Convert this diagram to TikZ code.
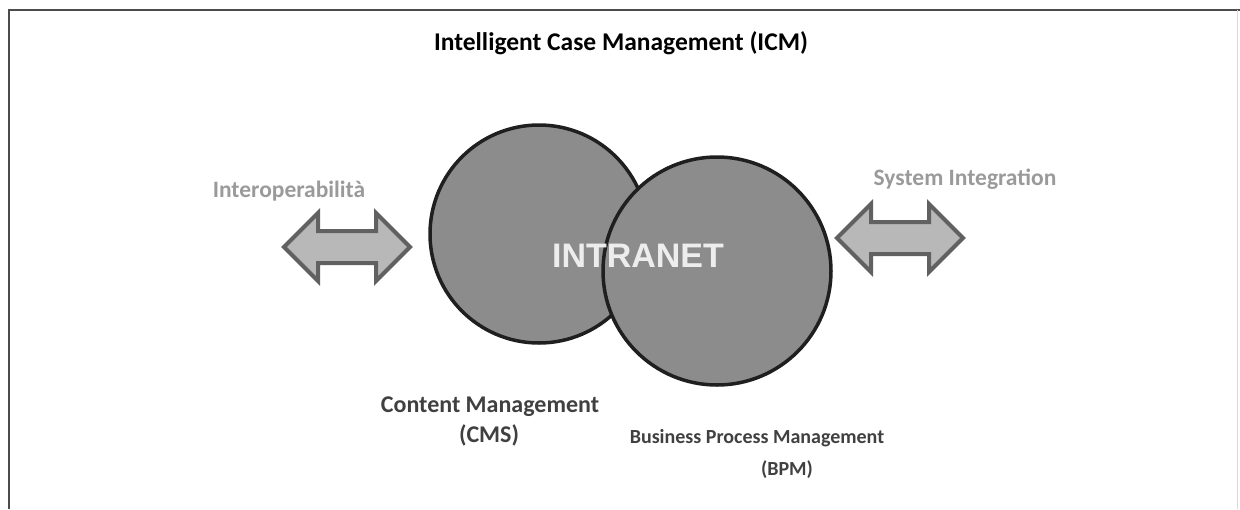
\documentclass[tikz,border=0pt]{standalone}
\usepackage{fontspec}
\setmainfont{Carlito}
\newfontfamily\arialfont{Liberation Sans}
\usepackage{tikz}
\usetikzlibrary{
    calc,
    positioning
}
\definecolor{labelgray}{HTML}{9A9A9A}
\definecolor{textgray}{HTML}{404040}
\tikzset{
    title/.style={anchor=base, font=\bfseries\fontsize{25.5}{30}\selectfont},
    sidelabel/.style={anchor=base, text=labelgray, font=\bfseries\fontsize{23.5}{28}\selectfont},
    partlabel/.style={anchor=base, text=textgray, font=\bfseries\fontsize{#1}{28}\selectfont},
    bubble/.style={circle, draw=black!88, line width=3.5, fill=black!45, inner sep=0},
    arrowbox/.style={draw=black!62, line width=4, fill=black!28, line join=miter}
}
\newcommand{\dblarrow}[1]{
    \draw[arrowbox] ($(#1) + (-63, 0)$) -- ($(#1) + (-29, -34)$) -- ($(#1) + (-29, -16)$)
    -- ($(#1) + (29, -16)$) -- ($(#1) + (29, -34)$) -- ($(#1) + (63, 0)$)
    -- ($(#1) + (29, 34)$) -- ($(#1) + (29, 16)$) -- ($(#1) + (-29, 16)$)
    -- ($(#1) + (-29, 34)$) -- cycle;
}

\begin{document}
\begin{tikzpicture}[x=1pt, y=-1pt]
    \useasboundingbox (0, 0) rectangle (1240, 509);
    \draw[black!70, line width=1.5] (9, 509) -- (9, 10) -- (1240, 10);
    \draw[black!15, line width=1] (1237, 10) -- (1237, 509);
    \node[title] (head) at (621, 50) {Intelligent Case Management (ICM)};
    \node[bubble, minimum size=218] (cms) at (539, 234) {};
    \node[bubble, minimum size=228] (bpm) at (717, 271) {};
    \node[anchor=base, text=black!7, font=\arialfont\bfseries\fontsize{34}{40}\selectfont] (intranet) at (638, 267) {INTRANET};
    \coordinate (la) at (347, 247);
    \coordinate (ra) at (900, 238);
    \dblarrow{la}
    \dblarrow{ra}
    \node[sidelabel] (interop) at (289, 197) {Interoperabilità};
    \node[sidelabel] (sysint) at (965, 185) {System Integration};
    \node[partlabel=24] (cmsname) at (490, 412) {Content Management};
    \node[partlabel=24] (cmsabbr) at (489, 442) {(CMS)};
    \node[partlabel=20] (bpmname) at (757, 443) {Business Process Management};
    \node[partlabel=20] (bpmabbr) at (787, 475) {(BPM)};
\end{tikzpicture}
\end{document}
